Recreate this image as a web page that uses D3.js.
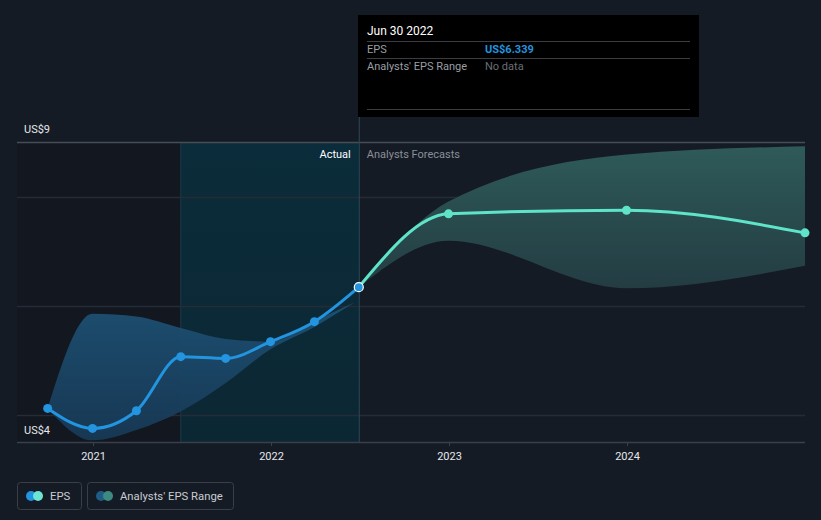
<!DOCTYPE html>
<html><head><meta charset="utf-8">
<script src="https://cdn.jsdelivr.net/npm/d3@7"></script>
<style>
html,body{margin:0;padding:0;background:#151b25;}
svg{display:block;font-family:Roboto,"Noto Sans",sans-serif;}
</style></head>
<body><svg id="c" width="821" height="520"></svg>
<script>
// ---- data ----
const actualDates = ["2020-09-30","2020-12-31","2021-03-31","2021-06-30","2021-09-30","2021-12-31","2022-03-31","2022-06-30"];
const actualEPS   = [4.116, 3.749, 4.073, 5.064, 5.033, 5.339, 5.706, 6.339];
const pastRangeDates = ["2020-09-30","2020-12-31","2021-03-31","2021-06-30","2021-09-30","2021-12-31","2022-03-31","2022-06-22"];
const pastRangeLow   = [4.116, 3.53, 3.72, 4.06, 4.58, 5.20, 5.61, 6.06];
const pastRangeHigh  = [4.116, 5.85, 5.80, 5.59, 5.39, 5.34, 5.72, 6.06];
const forecastDates = ["2022-06-30","2022-12-31","2023-12-31","2024-12-31"];
const forecastEPS   = [6.339, 7.683, 7.749, 7.334];
const forecastLow   = [6.339, 7.19, 6.32, 6.73];
const forecastHigh  = [6.339, 7.91, 8.77, 8.92];
const yTickValues = [4, 6, 8, 9];
const yLabelValues = [4, 9];
const xTickYears = ["2021","2022","2023","2024"];
const tooltipTitle = "Jun 30 2022";
const tooltipEPS = "US$6.339";

// ---- setup ----
const parse = d3.timeParse("%Y-%m-%d");
const svg = d3.select("#c");
const pL = 17, pR = 805, pT = 142, pB = 442;
const x = d3.scaleTime();
(function(){
  const a = parse("2021-01-01"), b = parse("2024-01-01");
  const k = (627-93)/(b-a);
  x.domain([new Date(+a - (93-pL)/k), new Date(+a + (pR-93)/k)]).range([pL,pR]);
})();
const y = d3.scaleLinear().domain([3.5, 9]).range([pB, pT]);

const defs = svg.append("defs");
const g1 = defs.append("linearGradient").attr("id","hl").attr("x1",0).attr("x2",0).attr("y1",0).attr("y2",1);
g1.append("stop").attr("offset","0%").attr("stop-color","#0b2c3a");
g1.append("stop").attr("offset","100%").attr("stop-color","#0c2734");
const g2 = defs.append("linearGradient").attr("id","fb").attr("gradientUnits","userSpaceOnUse").attr("x1",0).attr("x2",0).attr("y1",pT).attr("y2",300);
g2.append("stop").attr("offset","0%").attr("stop-color","#2f5b5a");
g2.append("stop").attr("offset","100%").attr("stop-color","#223a41");
const g3 = defs.append("linearGradient").attr("id","pb").attr("gradientUnits","userSpaceOnUse").attr("x1",0).attr("x2",0).attr("y1",310).attr("y2",442);
g3.append("stop").attr("offset","0%").attr("stop-color","#1d4f72");
g3.append("stop").attr("offset","100%").attr("stop-color","#173955");

const xSplit = x(parse(actualDates[actualDates.length-1]));
const xHl = x(parse("2021-06-30"));

// background regions
svg.append("rect").attr("x",pL).attr("y",pT).attr("width",xHl-pL).attr("height",pB-pT).attr("fill","#121720");
svg.append("rect").attr("x",xHl).attr("y",pT).attr("width",xSplit-xHl).attr("height",pB-pT).attr("fill","url(#hl)");
svg.append("line").attr("x1",xHl).attr("x2",xHl).attr("y1",pT).attr("y2",pB).attr("stroke","#1a3a48").attr("stroke-width",1);

// gridlines
svg.append("g").selectAll("line").data(yTickValues).join("line")
  .attr("x1",pL).attr("x2",pR).attr("y1",d=>Math.round(y(d))+0.5).attr("y2",d=>Math.round(y(d))+0.5)
  .attr("stroke",d=>d===9?"#474c55":"#262c35").attr("stroke-width",1.5);

// bands
const area = d3.area().curve(d3.curveMonotoneX).x(d=>x(d.date)).y0(d=>y(d.lo)).y1(d=>y(d.hi));
const pastBand = pastRangeDates.map((d,i)=>({date:parse(d),lo:pastRangeLow[i],hi:pastRangeHigh[i]}));
const fcBand = forecastDates.map((d,i)=>({date:parse(d),lo:forecastLow[i],hi:forecastHigh[i]}));
svg.append("path").datum(pastBand).attr("d",area).attr("fill","url(#pb)").attr("opacity",0.95);
svg.append("path").datum(fcBand).attr("d",area).attr("fill","url(#fb)");

// split line
svg.append("line").attr("x1",xSplit+0.5).attr("x2",xSplit+0.5).attr("y1",15).attr("y2",pB).attr("stroke","#2c4a58").attr("stroke-width",1);

// axis baseline
svg.append("line").attr("x1",pL).attr("x2",pR).attr("y1",pB+0.5).attr("y2",pB+0.5).attr("stroke","#3a4049").attr("stroke-width",1.5);
const xAxis = d3.axisBottom(x).tickValues(xTickYears.map(s=>parse(s+"-01-01"))).tickFormat(d3.timeFormat("%Y")).tickSize(4).tickPadding(6);
const ax = svg.append("g").attr("transform",`translate(0,${pB})`).call(xAxis);
ax.select(".domain").remove();
ax.selectAll(".tick line").attr("stroke","#3a4049");
ax.selectAll(".tick text").attr("fill","#e6e8eb").attr("font-size",11).attr("font-family","Roboto,sans-serif");

// y labels
svg.append("g").selectAll("text").data(yLabelValues).join("text")
  .attr("x",24).attr("y",d=>d===9?y(d)-9:y(d)+19)
  .attr("fill","#e6e8eb").attr("font-size",11).text(d=>"US$"+d);

// lines
const line = d3.line().curve(d3.curveMonotoneX).x(d=>x(d.date)).y(d=>y(d.v));
const act = actualDates.map((d,i)=>({date:parse(d),v:actualEPS[i]}));
const fc = forecastDates.map((d,i)=>({date:parse(d),v:forecastEPS[i]}));
svg.append("path").datum(fc).attr("d",line).attr("fill","none").attr("stroke","#5fe3c9").attr("stroke-width",3);
svg.append("g").selectAll("circle").data(fc.slice(1)).join("circle")
  .attr("cx",d=>x(d.date)).attr("cy",d=>y(d.v)).attr("r",4.5).attr("fill","#5fe3c9");
svg.append("path").datum(act).attr("d",line).attr("fill","none").attr("stroke","#2394df").attr("stroke-width",3);
svg.append("g").selectAll("circle").data(act).join("circle")
  .attr("cx",d=>x(d.date)).attr("cy",d=>y(d.v)).attr("r",4.5)
  .attr("fill","#2394df").attr("stroke",(d,i)=>i===act.length-1?"#ffffff":"none").attr("stroke-width",1.2);

// Actual / Forecast labels
svg.append("text").attr("x",xSplit-8).attr("y",158).attr("text-anchor","end").attr("fill","#ffffff").attr("font-size",11).text("Actual");
svg.append("text").attr("x",xSplit+8).attr("y",158).attr("fill","#8a8f96").attr("font-size",11).text("Analysts Forecasts");

// tooltip
const tt = svg.append("g");
tt.append("rect").attr("x",358).attr("y",15).attr("width",341).attr("height",102).attr("fill","#000000");
tt.append("text").attr("x",367).attr("y",35).attr("fill","#ffffff").attr("font-size",12).text(tooltipTitle);
[41.5,58.5,109.5].forEach(yy=>tt.append("line").attr("x1",367).attr("x2",690).attr("y1",yy).attr("y2",yy).attr("stroke","#3a3d42").attr("stroke-width",1));
tt.append("text").attr("x",367).attr("y",53).attr("fill","#9a9ea4").attr("font-size",11).text("EPS");
tt.append("text").attr("x",485).attr("y",53).attr("fill","#2394df").attr("font-size",11).attr("font-weight","bold").text(tooltipEPS);
tt.append("text").attr("x",367).attr("y",70).attr("fill","#9a9ea4").attr("font-size",11).text("Analysts' EPS Range");
tt.append("text").attr("x",485).attr("y",70).attr("fill","#6a6e74").attr("font-size",11).text("No data");

// legend
const lg = svg.append("g");
const items = [{x:17,w:64,c1:"#2394df",c2:"#6ce5d3",t:"EPS"},{x:87,w:146,c1:"#1f5d87",c2:"#3d8a80",t:"Analysts' EPS Range"}];
items.forEach(it=>{
  lg.append("rect").attr("x",it.x+0.5).attr("y",482.5).attr("width",it.w).attr("height",27).attr("rx",3).attr("fill","none").attr("stroke","#3a3f47");
  lg.append("circle").attr("cx",it.x+14).attr("cy",496).attr("r",5).attr("fill",it.c1);
  lg.append("circle").attr("cx",it.x+21).attr("cy",496).attr("r",5).attr("fill",it.c2);
  lg.append("text").attr("x",it.x+33).attr("y",500).attr("fill","#c9ccd1").attr("font-size",11.3).text(it.t);
});
</script></body></html>
